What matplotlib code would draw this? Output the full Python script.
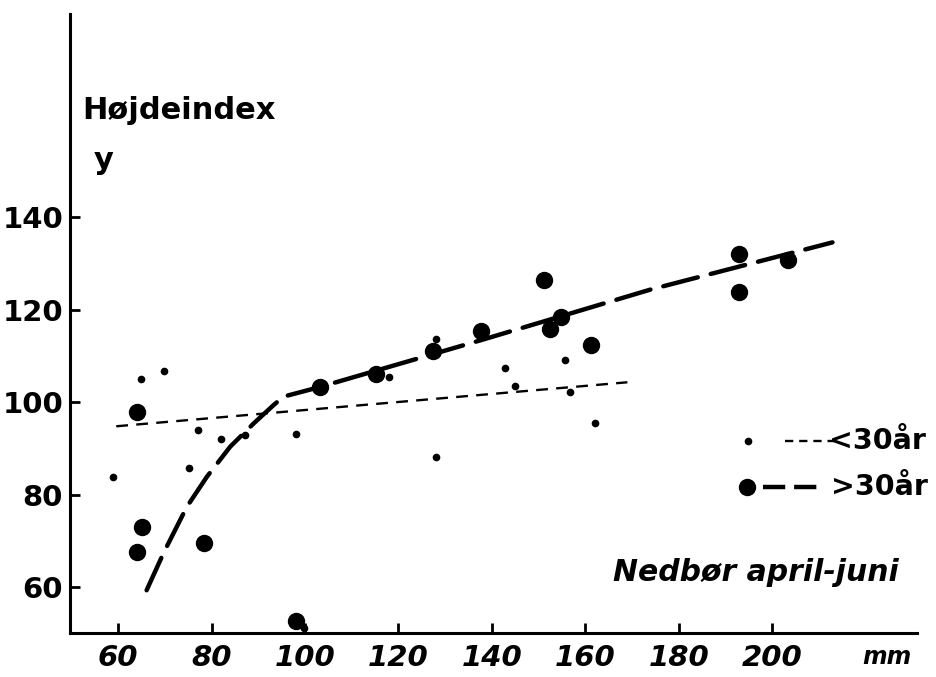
import matplotlib
matplotlib.use("Agg")
import matplotlib.pyplot as plt

# Højdeindex vs. nedbør april-juni
young_x = [58.9, 64.9, 69.9, 75.1, 77.2, 82.1, 87.2, 98.1, 99.8, 118.0, 128.1, 128.1,
           142.9, 144.9, 155.7, 156.7, 162.1]
young_y = [83.9, 105.1, 106.8, 85.8, 94.0, 92.0, 92.9, 93.1, 51.3, 105.4, 113.6, 88.1,
           107.4, 103.5, 109.1, 102.2, 95.4]

old_x = [64.0, 65.2, 64.1, 78.3, 98.1, 103.2, 115.3, 127.4, 137.7, 151.2, 152.4, 154.9,
         161.2, 192.9, 192.9, 203.4]
old_y = [97.8, 73.0, 67.7, 69.7, 52.7, 103.2, 106.0, 111.1, 115.4, 126.4, 115.7, 118.3,
         112.3, 132.0, 123.7, 130.7]

# fitted lines as drawn
young_line_x = [59.6, 169.0]
young_line_y = [94.8, 104.3]
old_line_x = [66.1, 69.7, 74.7, 79.0, 84.0, 89.0, 93.3, 95.4, 102.9, 137.7, 173.9, 212.9]
old_line_y = [59.4, 67.4, 77.4, 83.9, 90.4, 95.4, 99.4, 101.2, 103.2, 113.4, 124.3, 134.5]

x_ticks = [60, 80, 100, 120, 140, 160, 180, 200]
y_ticks = [60, 80, 100, 120, 140]

plt.rcParams["font.family"] = ["DejaVu Sans"]
plt.rcParams["font.weight"] = "bold"

fig = plt.figure(figsize=(9.37, 6.77), dpi=100)
ax = fig.add_axes([0.0747, 0.0645, 0.904, 0.9148])

ax.plot(young_line_x, young_line_y, color="black", lw=1.7, dashes=(5, 3.5))
ax.plot(old_line_x, old_line_y, color="black", lw=3.2, dashes=(8, 3), solid_capstyle="round",
        dash_capstyle="round")
ax.plot(young_x, young_y, "o", color="black", ms=4.5, ls="none")
ax.plot(old_x, old_y, "o", color="black", ms=11.5, ls="none")

ax.set_xlim(49.7, 231)
ax.set_ylim(50.1, 183.8)
for side in ["top", "right"]:
    ax.spines[side].set_visible(False)
for side in ["left", "bottom"]:
    ax.spines[side].set_linewidth(2.2)

ax.set_xticks(x_ticks)
ax.set_yticks(y_ticks)
ax.tick_params(direction="in", length=7, width=2, labelsize=21, pad=5)
ax.tick_params(axis="x", pad=8)
for lab in ax.get_xticklabels():
    lab.set_fontstyle("italic")

ax.text(0.014, 0.845, "Højdeindex", transform=ax.transAxes, fontsize=22,
        ha="left", va="center")
ax.text(0.028, 0.764, "y", transform=ax.transAxes, fontsize=22, ha="left", va="center")
ax.text(0.641, 0.099, "Nedbør april-juni", transform=ax.transAxes, fontsize=21.5,
        fontstyle="italic", ha="left", va="center")
ax.text(0.935, -0.038, "mm", transform=ax.transAxes, fontsize=17, fontstyle="italic",
        ha="left", va="center", clip_on=False)

# hand-made key
ax.plot([0.800], [0.311], "o", color="black", ms=4.5, transform=ax.transAxes)
ax.plot([0.844, 0.904], [0.311, 0.311], color="black", lw=1.7, dashes=(3.5, 2.5),
        transform=ax.transAxes)
ax.text(0.896, 0.311, "<30år", transform=ax.transAxes, fontsize=20.5, ha="left", va="center")
ax.plot([0.799], [0.237], "o", color="black", ms=11.5, transform=ax.transAxes)
ax.plot([0.818, 0.889], [0.237, 0.237], color="black", lw=3.2, dashes=(5, 2),
        transform=ax.transAxes)
ax.text(0.898, 0.237, ">30år", transform=ax.transAxes, fontsize=20.5, ha="left", va="center")

fig.savefig("out.png", dpi=100)
